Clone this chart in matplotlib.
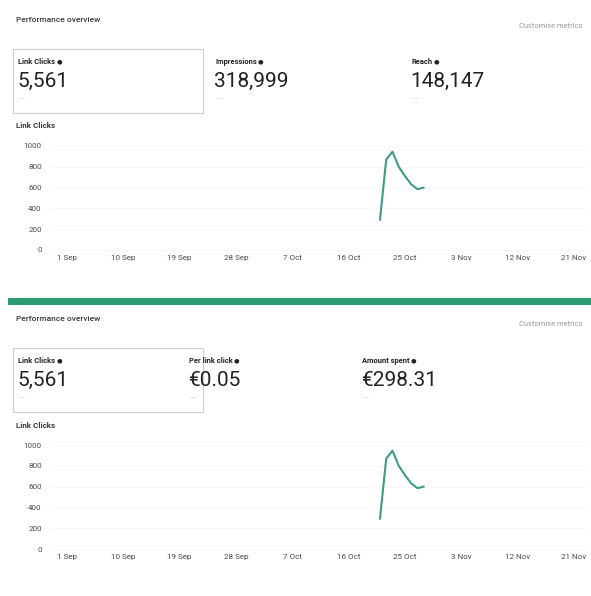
#!/usr/bin/env python3
"""Recreate the two 'Performance overview' dashboard panels."""
import datetime as dt

import matplotlib
matplotlib.use("Agg")
import matplotlib.pyplot as plt
import matplotlib.dates as mdates
from matplotlib.patches import Rectangle

# ---- data -------------------------------------------------------------
dates = [dt.date(2023, 10, d) for d in range(21, 29)]
link_clicks = [290, 870, 945, 800, 710, 630, 585, 600]

x_ticks = [dt.date(2023, 9, 1), dt.date(2023, 9, 10), dt.date(2023, 9, 19),
           dt.date(2023, 9, 28), dt.date(2023, 10, 7), dt.date(2023, 10, 16),
           dt.date(2023, 10, 25), dt.date(2023, 11, 3), dt.date(2023, 11, 12),
           dt.date(2023, 11, 21)]
x_tick_labels = ["1 Sep", "10 Sep", "19 Sep", "28 Sep", "7 Oct", "16 Oct",
                 "25 Oct", "3 Nov", "12 Nov", "21 Nov"]
y_ticks = [0, 200, 400, 600, 800, 1000]

top_metrics = [("Link Clicks", "5,561"), ("Impressions", "318,999"), ("Reach", "148,147")]
bottom_metrics = [("Link Clicks", "5,561"), ("Per link click", "€0.05"), ("Amount spent", "€298.31")]

# ---- style ------------------------------------------------------------
W, H = 591, 596
FONT = ["Roboto", "DejaVu Sans"]
LINE = "#3f9a8a"
GREEN = "#2e9b72"
DARK = "#222222"
MID = "#3a3a3a"
LIGHT = "#9a9a9a"

plt.rcParams["font.family"] = FONT

fig = plt.figure(figsize=(W / 100, H / 100), dpi=100)
fig.patch.set_facecolor("white")
metric_labels = []


def fx(px):
    return px / W


def fy(py):
    return 1 - py / H


def panel(off, metrics, metric_x):
    fig.text(fx(16), fy(off + 20), "Performance overview", fontsize=6,
             color=MID, va="center", fontweight="medium")
    fig.text(fx(582), fy(off + 26), "Customise metrics", fontsize=5.4,
             color=LIGHT, va="center", ha="right")
    fig.patches.append(Rectangle((fx(13), fy(off + 113)), fx(190), 64 / H,
                                 transform=fig.transFigure, fill=False,
                                 edgecolor="#cfcfcf", linewidth=0.8))
    for (label, value), x in zip(metrics, metric_x):
        metric_labels.append(fig.text(fx(x), fy(off + 62), label, fontsize=5.4,
                                      color=DARK, va="center", fontweight="bold"))
        fig.text(fx(x - 1), fy(off + 81), value, fontsize=15, color=DARK, va="center")
        fig.text(fx(x), fy(off + 99), "––", fontsize=4.5, color="#b5b5b5", va="center")
    fig.text(fx(16), fy(off + 126), "Link Clicks", fontsize=5.8, color=MID,
             va="center", fontweight="bold")

    # chart: 0 at off+250 px, 1000 at off+146 px ; 1 Sep at 67 px, 21 Nov at 574 px
    left_px, right_px = 50, 586
    top_px, bot_px = off + 138, off + 254
    ax = fig.add_axes([fx(left_px), fy(bot_px), fx(right_px - left_px), (bot_px - top_px) / H])
    x0 = mdates.date2num(x_ticks[0])
    x1 = mdates.date2num(x_ticks[-1])
    ppd = (574 - 67) / (x1 - x0)
    ax.set_xlim(x0 - (67 - left_px) / ppd, x1 + (right_px - 574) / ppd)
    ppv = (250 - 146) / 1000
    ax.set_ylim(-(bot_px - off - 250) / ppv, 1000 + (off + 146 - top_px) / ppv)

    ax.plot(mdates.date2num(dates), link_clicks, color=LINE, linewidth=1.5,
            solid_joinstyle="round", solid_capstyle="round")

    ax.set_yticks(y_ticks)
    ax.set_yticklabels([str(v) for v in y_ticks])
    ax.set_xticks(mdates.date2num(x_ticks))
    ax.set_xticklabels(x_tick_labels)
    ax.tick_params(axis="both", length=0, labelsize=5.8, colors="#4a4a4a")
    ax.tick_params(axis="y", pad=6)
    ax.tick_params(axis="x", pad=1)
    ax.grid(axis="y", color="#f6f6f6", linewidth=0.6)
    for s in ax.spines.values():
        s.set_visible(False)
    ax.set_facecolor("none")
    return ax


panel(0, top_metrics, [18, 215, 411])
panel(299, bottom_metrics, [18, 189, 362])

# info icons: a small dark dot right after each metric label
fig.canvas.draw()
renderer = fig.canvas.get_renderer()
for t in metric_labels:
    bb = t.get_window_extent(renderer)
    cx, cy = bb.x1 + 4, (bb.y0 + bb.y1) / 2
    fig.text(cx / W, cy / H, "●", fontsize=4.6, color=DARK, ha="center",
             va="center", family="DejaVu Sans")

# green separator between the two screenshots
fig.patches.append(Rectangle((fx(8), fy(305)), 1 - fx(8), 7 / H,
                             transform=fig.transFigure, facecolor=GREEN,
                             edgecolor="none"))

fig.savefig("out.png", dpi=100, facecolor="white")
